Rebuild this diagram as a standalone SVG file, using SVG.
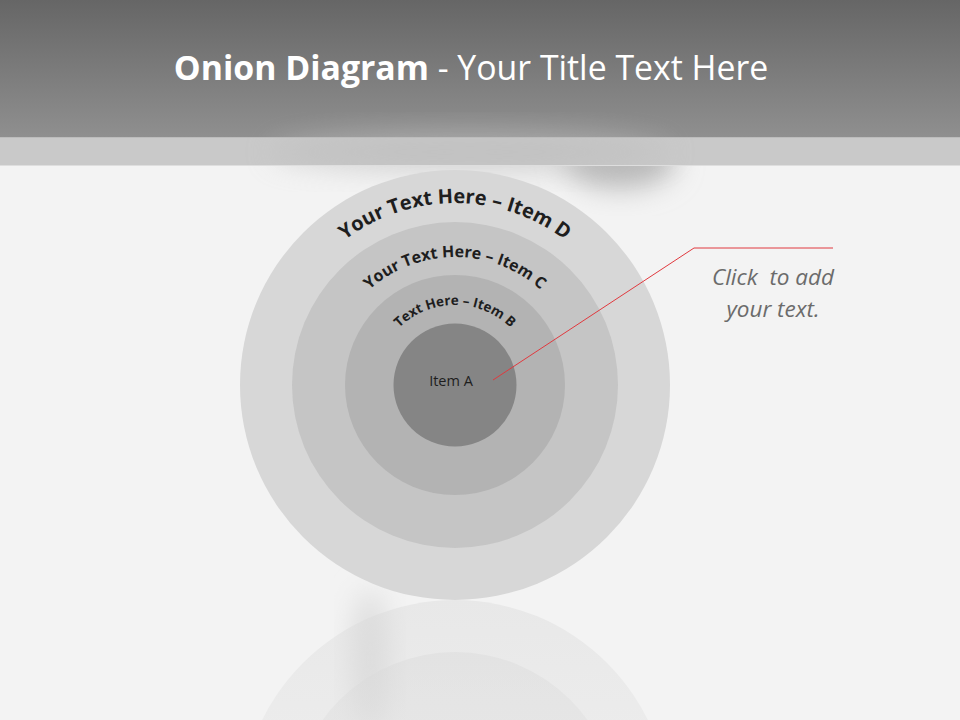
<svg xmlns="http://www.w3.org/2000/svg" width="960" height="720" viewBox="0 0 960 720">
<defs>
<linearGradient id="titleG" x1="0" y1="0" x2="0" y2="1">
<stop offset="0" stop-color="#666666"/>
<stop offset="1" stop-color="#8f8f8f"/>
</linearGradient>
<linearGradient id="reflG" x1="0" y1="0" x2="0" y2="1">
<stop offset="0" stop-color="#d8d8d8" stop-opacity="0.9"/>
<stop offset="1" stop-color="#e6e6e6" stop-opacity="0.3"/>
</linearGradient>
<filter id="blur" x="-50%" y="-50%" width="200%" height="200%"><feGaussianBlur stdDeviation="14"/></filter>
<path id="arcD" d="M 273 385 A 182 182 0 0 1 637 385"/>
<path id="arcC" d="M 327 385 A 128 128 0 0 1 583 385"/>
<path id="arcB" d="M 375 385 A 80 80 0 0 1 535 385"/>
</defs>
<style>
.arc{font-family:"Open Sans","Liberation Sans",sans-serif;font-weight:bold;fill:#1e1e1e}
.title{font-family:"Open Sans","Liberation Sans",sans-serif;fill:#ffffff;font-size:33.8px}
.note{font-family:"Open Sans","Liberation Sans",sans-serif;font-style:italic;fill:#6b6b6b;font-size:22.5px}
.conn{stroke:#e0393e;stroke-width:1;fill:none}
</style>
<rect width="960" height="720" fill="#f3f3f3"/>
<ellipse cx="620" cy="160" rx="55" ry="28" fill="#b8b8b8" filter="url(#blur)"/>
<ellipse cx="370" cy="660" rx="18" ry="70" fill="#dcdcdc" filter="url(#blur)"/>
<rect x="0" y="0" width="960" height="137" fill="url(#titleG)"/>
<rect x="0" y="137" width="960" height="29" fill="#c9c9c9"/>
<ellipse cx="470" cy="152" rx="200" ry="20" fill="#bdbdbd" filter="url(#blur)" opacity="0.6"/>
<rect x="0" y="137" width="960" height="1" fill="#bcbcbc"/>
<rect x="0" y="165" width="960" height="1" fill="#dedede"/>
<text class="title" x="471" y="80" text-anchor="middle"><tspan font-weight="bold">Onion Diagram</tspan> - Your Title Text Here</text>
<g id="reflection">
<circle cx="455" cy="815" r="215" fill="url(#reflG)" opacity="0.45"/>
<circle cx="455" cy="815" r="163" fill="url(#reflG)" opacity="0.45"/>
</g>
<g id="itemD"><circle cx="455" cy="385" r="215" fill="#d7d7d7"/>
<text class="arc" font-size="20"><textPath href="#arcD" startOffset="50%" text-anchor="middle">Your Text Here – Item D</textPath></text></g>
<g id="itemC"><circle cx="455" cy="385" r="163" fill="#c5c5c5"/>
<text class="arc" font-size="16"><textPath href="#arcC" startOffset="50%" text-anchor="middle">Your Text Here – Item C</textPath></text></g>
<g id="itemB"><circle cx="455" cy="385" r="110" fill="#b3b3b3"/>
<text class="arc" font-size="13.5"><textPath href="#arcB" startOffset="50%" text-anchor="middle">Text Here – Item B</textPath></text></g>
<g id="itemA"><circle cx="455" cy="385" r="61.5" fill="#858585"/>
<text x="451" y="386" text-anchor="middle" font-family="Open Sans, Liberation Sans, sans-serif" font-size="14.5" fill="#1e1e1e">Item A</text></g>
<g id="connectors"><polyline class="conn" points="493,380 694,248 833,248"/></g>
<g id="callout">
<text class="note" x="773" y="285" text-anchor="middle" xml:space="preserve">Click  to add</text>
<text class="note" x="773" y="317" text-anchor="middle">your text.</text>
</g>
</svg>
